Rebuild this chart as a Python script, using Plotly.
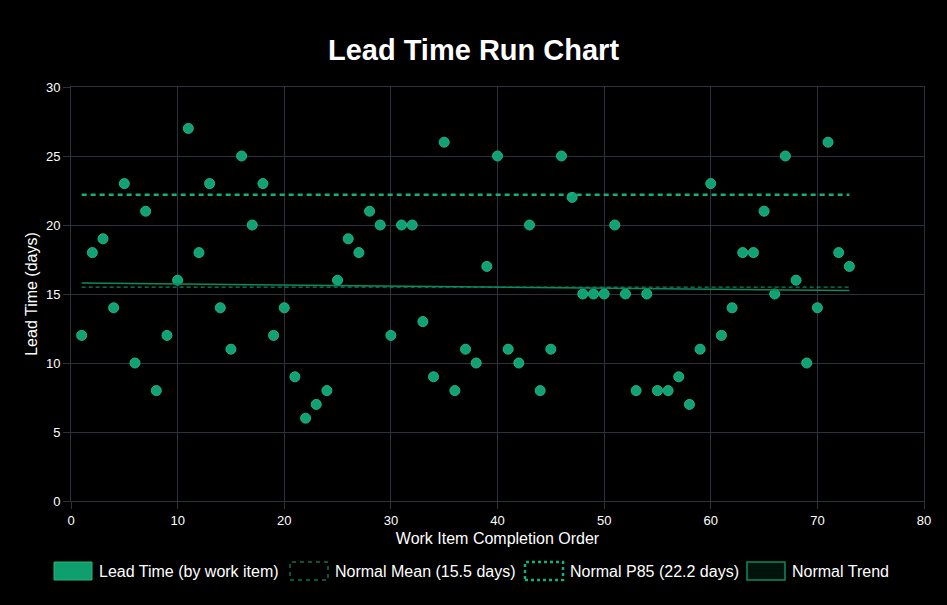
import plotly.graph_objects as go

order = list(range(1, 74))
lead_time = [12, 18, 19, 14, 23, 10, 21, 8, 12, 16,
             27, 18, 23, 14, 11, 25, 20, 23, 12, 14,
             9, 6, 7, 8, 16, 19, 18, 21, 20, 12,
             20, 20, 13, 9, 26, 8, 11, 10, 17, 25,
             11, 10, 20, 8, 11, 25, 22, 15, 15, 15,
             20, 15, 8, 15, 8, 8, 9, 7, 11, 23,
             12, 14, 18, 18, 21, 15, 25, 16, 10, 14,
             26, 18, 17]
mean_value = 15.5
p85_value = 22.2
trend_x = [1, 73]
trend_y = [15.8, 15.25]
legend_labels = ["Lead Time (by work item)", "Normal Mean (15.5 days)",
                 "Normal P85 (22.2 days)", "Normal Trend"]

GREEN = "#10a274"
GRID = "#2d313c"

L, R, T, B = 71, 924, 87, 501
W, H = 947, 605

fig = go.Figure()
fig.add_trace(go.Scatter(x=order, y=lead_time, mode="markers",
                         marker=dict(size=10, color=GREEN, line=dict(color="#22b585", width=1)),
                         name=legend_labels[0]))
fig.add_trace(go.Scatter(x=[order[0], order[-1]], y=[mean_value, mean_value], mode="lines",
                         line=dict(color="#12a878", width=1, dash="4px,3px"), name=legend_labels[1]))
fig.add_trace(go.Scatter(x=[order[0], order[-1]], y=[p85_value, p85_value], mode="lines",
                         line=dict(color="#12b07e", width=2.5, dash="5px,4px"), name=legend_labels[2]))
fig.add_trace(go.Scatter(x=trend_x, y=trend_y, mode="lines",
                         line=dict(color="#0c8a60", width=1.5), name=legend_labels[3]))

# custom Chart.js-style legend
box_x = [54, 290, 525, 747]
styles = [
    dict(fill="#0f9e6e", line=dict(color="#22b585", width=1)),
    dict(fill="#000000", line=dict(color="#12a878", width=1, dash="4px,4px")),
    dict(fill="#000000", line=dict(color="#12b07e", width=2.5, dash="3px,3px")),
    dict(fill="#00140c", line=dict(color="#0c8a60", width=1.5)),
]
shapes = []
annotations = []
for bx, st, lab in zip(box_x, styles, legend_labels):
    shapes.append(dict(type="rect", xref="paper", yref="paper",
                       x0=(bx - L) / (R - L), x1=(bx + 38 - L) / (R - L),
                       y0=(B - 580) / (B - T), y1=(B - 562) / (B - T),
                       fillcolor=st["fill"], line=st["line"], layer="above"))
    annotations.append(dict(xref="paper", yref="paper",
                            x=(bx + 43 - L) / (R - L), y=(B - 571.5) / (B - T),
                            text=lab, showarrow=False, xanchor="left", yanchor="middle",
                            font=dict(color="#ffffff", size=16)))

fig.update_layout(
    width=W, height=H,
    paper_bgcolor="#000000", plot_bgcolor="#000000",
    font=dict(family="Liberation Sans, Arial, sans-serif", color="#ffffff", size=13),
    title=dict(text="<b>Lead Time Run Chart</b>", x=0.5, xanchor="center", y=1 - 50 / H, yanchor="middle",
               font=dict(size=29, color="#ffffff")),
    margin=dict(l=L, r=W - R, t=T, b=H - B),
    showlegend=False,
    hovermode=False,
    shapes=shapes,
    annotations=annotations,
    xaxis=dict(range=[0, 80], dtick=10, showgrid=True, gridcolor=GRID, gridwidth=1,
               zeroline=False, showline=True, linecolor=GRID, mirror=True,
               ticks="outside", ticklen=7, tickcolor=GRID,
               title=dict(text="Work Item Completion Order", font=dict(size=16, color="#ffffff"), standoff=6),
               tickfont=dict(size=13, color="#ffffff")),
    yaxis=dict(range=[0, 30], dtick=5, showgrid=True, gridcolor=GRID, gridwidth=1,
               zeroline=False, showline=True, linecolor=GRID, mirror=True,
               ticks="outside", ticklen=7, tickcolor=GRID,
               title=dict(text="Lead Time (days)", font=dict(size=16, color="#ffffff"), standoff=4),
               tickfont=dict(size=13, color="#ffffff")),
)

fig.write_html("out.html",
               config={"displayModeBar": False},
               post_script="document.body.style.margin='0';document.body.style.background='#000';"
                           "document.body.style.overflow='hidden';")
